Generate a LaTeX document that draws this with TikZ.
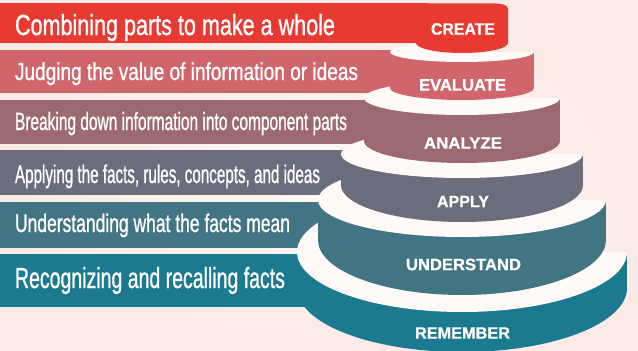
\documentclass[tikz,border=0pt]{standalone}
\usepackage{fontspec}
\setmainfont{Liberation Sans}
\newfontfamily\banfont[FakeBold=1.2]{Liberation Sans}
\newfontface\lvlfont[FakeBold=0.8]{Liberation Sans Bold}
\usepackage{graphicx}
\definecolor{cA}{HTML}{E63A33}
\definecolor{cB}{HTML}{D0666B}
\definecolor{cC}{HTML}{9D6970}
\definecolor{cD}{HTML}{6B6D7C}
\definecolor{cE}{HTML}{417584}
\definecolor{cF}{HTML}{1B7A90}
\definecolor{facec}{HTML}{FFF9F7}
\definecolor{bgin}{HTML}{FFF8F5}
\definecolor{bgout}{HTML}{FBEAE5}
\newcommand\bannertxt[3]{\resizebox{#1pt}{\height}{\fontsize{#2}{#2}\banfont\selectfont #3}}
\newcommand\lvltxt[2]{\resizebox{#1pt}{\height}{\fontsize{16.5}{16.5}\lvlfont\selectfont #2}}
\newcommand\topface[4]{% x0, yt, a, b : lower half + upper-left quarter
  \fill[facec] (#1+#3,#2) arc[start angle=0, end angle=270, x radius=#3, y radius=#4] -- (#1,#2) -- cycle;}
\tikzset{
  bantext/.style={text=white, anchor=base west, inner sep=0pt, outer sep=0pt},
  lvltext/.style={text=white, anchor=center, inner sep=0pt, outer sep=0pt},
}
\begin{document}
\begin{tikzpicture}[x=1pt,y=-1pt]
\useasboundingbox (0,0) rectangle (638,351);
\shade[inner color=bgin, outer color=bgout] (0,0) rectangle (638,351);
% banners
\fill[cA] (0,3.3) rectangle (428,43.3);
\fill[cB] (0,50) rectangle (402,93);
\fill[cC] (0,100) rectangle (376,144);
\fill[cD] (0,150) rectangle (353,195);
\fill[cE] (0,202) rectangle (330,248);
\fill[cF] (0,254) rectangle (309,307);
% REMEMBER
\fill[cF] (297,252) rectangle (627,288);
\fill[cF] (462,288) ellipse [x radius=165, y radius=64];
\topface{462}{252}{165}{60}
% UNDERSTAND
\fill[cE] (318,200) rectangle (606,240);
\fill[cE] (462,240) ellipse [x radius=144, y radius=55];
\topface{462}{200}{144}{37}
% APPLY
\fill[cD] (341,154) rectangle (583,185);
\fill[cD] (462,185) ellipse [x radius=121, y radius=37];
\topface{462}{154}{121}{24}
% ANALYZE
\fill[cC] (364,98) rectangle (560,141);
\fill[cC] (462,141) ellipse [x radius=98, y radius=22];
\topface{462}{98}{98}{17}
% EVALUATE
\fill[cB] (390,52) rectangle (534,88);
\fill[cB] (462,88) ellipse [x radius=72, y radius=12];
\topface{462}{52}{72}{10}
% CREATE
\fill[cA] (416,3.3) -- (490,3.3) .. controls (503,3.3) and (508,5) .. (508,9) -- (508,43) -- (416,43) -- cycle;
\fill[cA] (462,43) ellipse [x radius=46, y radius=10];
% banner texts
\node[bantext] (t1) at (15,35) {\bannertxt{320}{29}{Combining parts to make a whole}};
\node[bantext] (t2) at (15,80) {\bannertxt{343}{24.5}{Judging the value of information or ideas}};
\node[bantext] (t3) at (15,130) {\bannertxt{332}{25}{Breaking down information into component parts}};
\node[bantext] (t4) at (15,183) {\bannertxt{305}{25.5}{Applying the facts, rules, concepts, and ideas}};
\node[bantext] (t5) at (15,232) {\bannertxt{275}{25.5}{Understanding what the facts mean}};
\node[bantext] (t6) at (15,288) {\bannertxt{270}{29}{Recognizing and recalling facts}};
% level labels
\node[lvltext] (l1) at (463,29) {\lvltxt{64}{CREATE}};
\node[lvltext] (l2) at (462.5,85) {\lvltxt{87}{EVALUATE}};
\node[lvltext] (l3) at (463,143) {\lvltxt{78}{ANALYZE}};
\node[lvltext] (l4) at (463,201.5) {\lvltxt{52}{APPLY}};
\node[lvltext] (l5) at (463.5,264.5) {\lvltxt{115}{UNDERSTAND}};
\node[lvltext] (l6) at (462.5,333) {\lvltxt{95}{REMEMBER}};
\end{tikzpicture}
\end{document}
